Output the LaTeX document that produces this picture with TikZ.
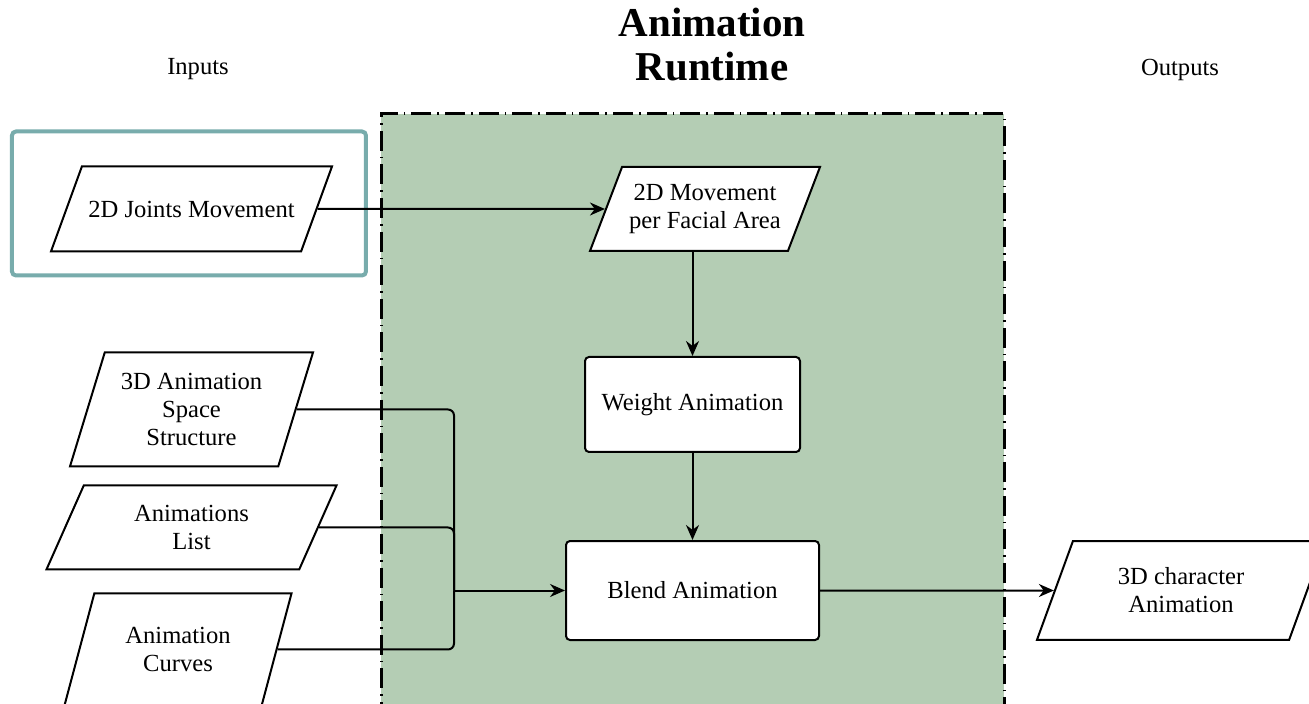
\documentclass[tikz,border=0pt]{standalone}
\usepackage{fontspec}
\setmainfont{Liberation Serif}
\usepackage{tikz}
\usetikzlibrary{shapes.geometric, arrows.meta}
\usetikzlibrary{positioning}
\definecolor{runtimegreen}{HTML}{B4CDB4}
\definecolor{inputteal}{HTML}{78ACAC}
\tikzset{dataio/.style = {trapezium, trapezium left angle=#1, trapezium right angle={180-#1}, trapezium stretches body, draw = black, fill=white, inner xsep=0pt, text centered, align=center, line width=1pt, font=\fontsize{12.3}{14}\selectfont}, dataio/.default=70}
\tikzstyle{process} = [rectangle, draw = black, fill=white, rounded corners=2pt, inner sep=0pt, text centered, align=center, line width=1pt, font=\fontsize{12.3}{14}\selectfont]
\tikzstyle{arrow} = [line width=1pt, -{Stealth[length=7.5pt, width=6.5pt]}]
\tikzstyle{line} = [line width=1pt, rounded corners=3pt]
\tikzstyle{label} = [font=\fontsize{12.3}{14}\selectfont]

\begin{document}
\begin{tikzpicture}[x=0.5pt, y=0.5pt]
		
		\useasboundingbox (0,0) rectangle (1309,-704);
		\clip (0,0) rectangle (1309,-704);
		
		\node (runtime) [draw = black, fill=runtimegreen, line width=1.5pt, dash pattern=on 10pt off 3pt on 0.8pt off 3pt, minimum width=311.5pt, minimum height=343pt] at (692.5,-457) {};
		
		\node (title) [font=\fontsize{20.5}{22}\selectfont\bfseries, align=center] at (712,-45) {Animation\\Runtime};
		
		\node (inputs) [label] at (198,-69) {Inputs};
		
		\node (outputs) [label] at (1180,-70) {Outputs};
		
		\node (Blend) [process, minimum width=126.5pt, minimum height=49.5pt] at (692.5,-590.5) {Blend Animation};
		
		\node (Weight) [process, above = 43.5pt of Blend, minimum width=107.5pt, minimum height=47.5pt] {Weight Animation};
		
		\node (Facial) [dataio=69, inner ysep=8.5pt, above = 52pt of Weight, xshift=6.25pt, minimum width=115pt, minimum height=42pt] {2D Movement\\per Facial Area};
		
		\node (Joints) [dataio, inner ysep=17.1pt, on grid, left = 256.75pt of Facial, minimum width=140.5pt, minimum height=42.5pt] {2D Joints Movement};
		
		\node (inputframe) [draw = inputteal, line width=2pt, rounded corners=2pt, minimum width=177pt, minimum height=72pt, xshift=-1.25pt, yshift=2.75pt] at (Joints) {};
		
		\node (Space) [dataio=73, inner ysep=10.3pt, on grid, below = 100.25pt of Joints, minimum width=121.5pt, minimum height=57pt] {3D Animation\\Space\\Structure};
		
		\node (List) [dataio=66, inner ysep=9.8pt, on grid, below = 59pt of Space, minimum width=145pt, minimum height=42pt] {Animations\\List};
		
		\node (Curves) [dataio=75, inner ysep=16.7pt, on grid, below = 61pt of List, xshift=-6.75pt, minimum width=113.5pt, minimum height=56pt] {Animation\\Curves};
		
		\node (Output) [dataio, inner ysep=13.3pt, on grid, right = 244.25pt of Blend, minimum width=144pt, minimum height=49pt] {3D character\\Animation};
		
		\coordinate [left = 55.5pt of Blend.west] (merge);
		
		\draw [arrow] (Joints.east) -- (Facial.west);
		
		\draw [arrow] (Weight.north |- Facial.south) -- (Weight.north);
		
		\draw [arrow] (Weight.south) -- (Blend.north);
		
		\draw [line] (Space.east) -| (merge);
		
		\draw [line] (List.east) -| (merge);
		
		\draw [line] (Curves.east) -| (merge);
		
		\draw [arrow] (merge) -- (Blend.west);
		
		\draw [arrow] (Blend.east) -- (Output.west);
		
\end{tikzpicture}
\end{document}
